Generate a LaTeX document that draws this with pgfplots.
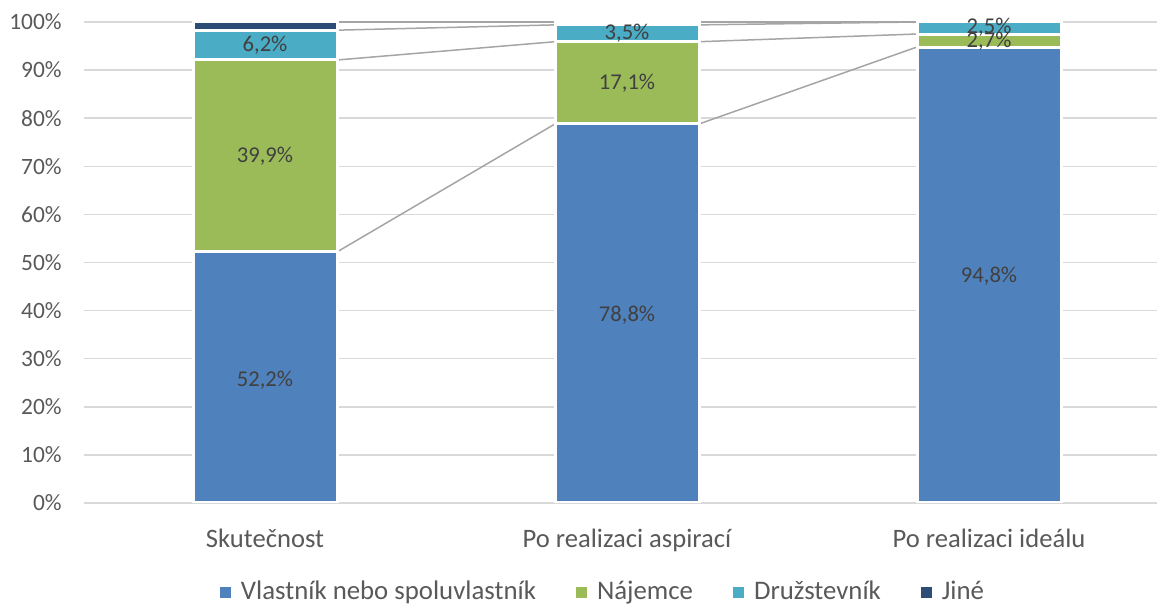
\documentclass[border=0pt]{standalone}
\usepackage{pgfplots}
\pgfplotsset{compat=1.18}
\usepackage{fontspec}
\setmainfont{Carlito}

\definecolor{cBlue}{HTML}{4F81BD}
\definecolor{cGreen}{HTML}{9BBB59}
\definecolor{cCyan}{HTML}{4BACC6}
\definecolor{cNavy}{HTML}{2C4D75}
\definecolor{gridgray}{HTML}{D9D9D9}
\definecolor{linegray}{HTML}{A5A5A5}
\definecolor{tickgray}{HTML}{595959}
\definecolor{labelgray}{HTML}{404040}

% shared frame: 1 px of the reference = 0.5pt
\pgfplotsset{
  frame/.style={
    scale only axis, width=536.5pt, height=240.5pt,
    at={(42pt,51pt)}, anchor=south west,
    xmin=-0.5, xmax=2.464, ymin=0, ymax=100,
  },
  sqlegend/.style={
    legend image code/.code={\fill[##1,draw=none] (0pt,-3.25pt) rectangle (5.5pt,2.25pt);}
  },
  seg/.style={fill=#1, draw=white, line width=1.5pt, sqlegend},
}

\begin{document}
\begin{tikzpicture}
% grid, ticks and series lines
\begin{axis}[frame,
  axis line style={draw=none}, major tick length=0pt,
  ymajorgrids, grid style={color=gridgray, line width=0.75pt},
  ytick={0,10,...,100},
  yticklabel={\pgfmathprintnumber[assume math mode=true]{\tick}\%},
  yticklabel style={anchor=east, xshift=-11pt, inner sep=0pt, text=tickgray,
    font=\fontsize{11.7}{14}\selectfont},
  xtick={0,1,2},
  xticklabels={Skutečnost, Po realizaci aspirací, Po realizaci ideálu},
  xticklabel style={anchor=base, yshift=-22.5pt, inner sep=0pt, text=tickgray,
    font=\fontsize{13.3}{16}\selectfont},
  unbounded coords=jump,
]
\addplot[linegray, line width=0.75pt] coordinates {(0.199,52.2) (0.801,78.8) (1,nan) (1.199,78.8) (1.801,94.8)};
\addplot[linegray, line width=0.75pt] coordinates {(0.199,92.1) (0.801,95.9) (1,nan) (1.199,95.9) (1.801,97.5)};
\addplot[linegray, line width=0.75pt] coordinates {(0.199,98.3) (0.801,99.4) (1,nan) (1.199,99.4) (1.801,100)};
\addplot[linegray, line width=0.75pt] coordinates {(0.199,100) (0.801,100) (1,nan) (1.199,100) (1.801,100)};
\end{axis}

% stacked bars and legend
\begin{axis}[frame, hide axis,
  ybar stacked, bar width=72pt,
  legend columns=4,
  legend style={at={(0.4846,-0.185)}, anchor=center, draw=none, fill=none,
    font=\fontsize{13.4}{16}\selectfont, text=tickgray,
    /tikz/every odd column/.append style={column sep=3pt},
    /tikz/every even column/.append style={column sep=18pt}},
]
\addplot[seg=cBlue]  coordinates {(0,52.2) (1,78.8) (2,94.8)};
\addplot[seg=cGreen] coordinates {(0,39.9) (1,17.1) (2,2.7)};
\addplot[seg=cCyan]  coordinates {(0,6.2) (1,3.5) (2,2.5)};
\addplot[seg=cNavy]  coordinates {(0,1.7) (1,0.6) (2,0)};
\legend{Vlastník nebo spoluvlastník, Nájemce, Družstevník, Jiné}
\end{axis}

% data labels, at the middle of each segment
\begin{axis}[frame, hide axis]
\addplot[draw=none, mark=none, nodes near coords, point meta=explicit symbolic,
  every node near coord/.append style={anchor=center, text=labelgray,
    font=\fontsize{11.3}{13}\selectfont}]
  coordinates {
    (0,25.6) [52,2\%]   (0,72.0) [39,9\%]  (0,95.2) [6,2\%]
    (1,39.1) [78,8\%]   (1,87.2) [17,1\%]  (1,97.65) [3,5\%]
    (2,47.1) [94,8\%]   (2,96.0) [2,7\%]   (2,98.9) [2,5\%]
  };
\end{axis}

\pgfresetboundingbox
\path[use as bounding box] (0,0) rectangle (578.5pt,302.5pt);
\end{tikzpicture}
\end{document}
